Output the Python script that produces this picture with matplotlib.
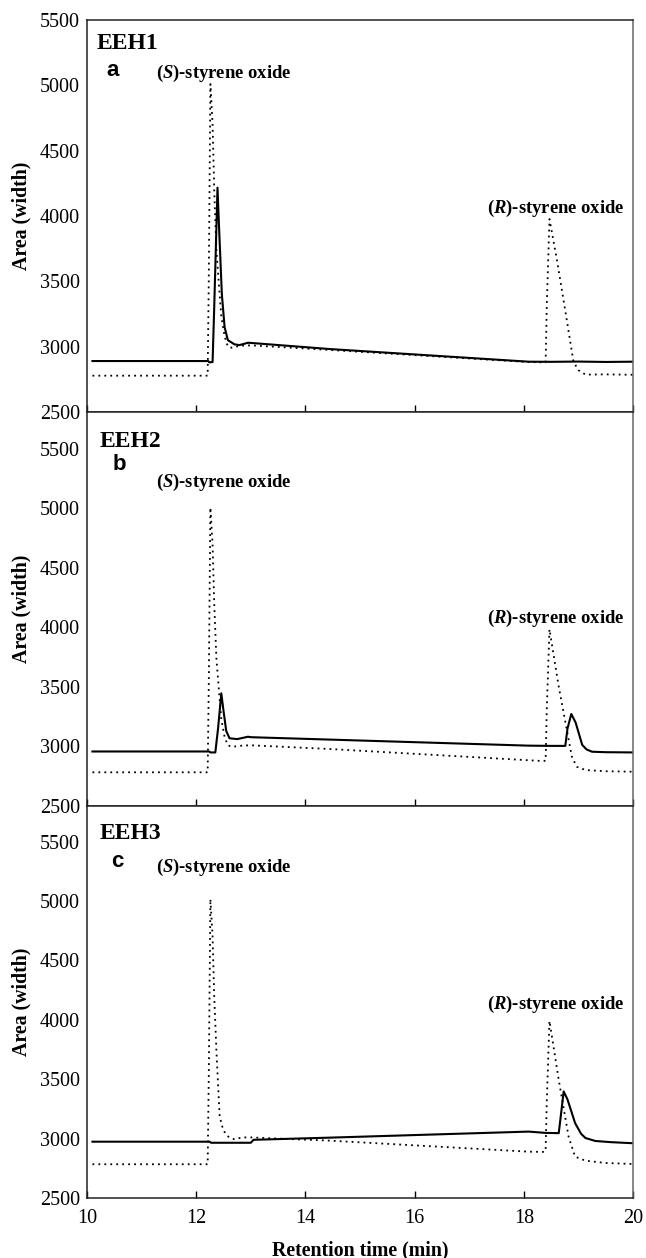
import matplotlib
matplotlib.use("Agg")
import matplotlib.pyplot as plt

plt.rcParams['font.family'] = ['Liberation Serif', 'DejaVu Serif']
plt.rcParams['mathtext.fontset'] = 'custom'
plt.rcParams['mathtext.it'] = 'Liberation Serif:italic:bold'
plt.rcParams['mathtext.rm'] = 'Liberation Serif:bold'

# ---- data (retention time in min, detector area) ----
p1_solid_x = [10.1, 12.22, 12.24, 12.30, 12.33, 12.39, 12.42, 12.47, 12.52, 12.58, 12.7, 12.79, 12.88, 12.95, 13.02, 14.44, 18.09, 18.5, 19.0, 19.5, 20.0]
p1_solid_y = [2890, 2890, 2880, 2882, 3300, 4217, 3900, 3400, 3150, 3050, 3018, 3012, 3022, 3030, 3028, 2982, 2885, 2884, 2886, 2883, 2885]
p1_dot_x = [10.1, 12.21, 12.23, 12.26, 12.30, 12.33, 12.37, 12.42, 12.46, 12.52, 12.58, 12.65, 12.75, 12.85, 13.0, 14.44, 18.09, 18.40, 18.42, 18.47, 18.60, 18.75, 18.91, 19.0, 19.13, 19.5, 20.0]
p1_dot_y = [2778, 2778, 3500, 5010, 4700, 4200, 3740, 3450, 3229, 3080, 3000, 2992, 3002, 3008, 3010, 2975, 2882, 2880, 3300, 3977, 3680, 3300, 2885, 2820, 2786, 2788, 2785]

p2_solid_x = [10.1, 12.24, 12.26, 12.35, 12.40, 12.46, 12.50, 12.55, 12.61, 12.75, 12.95, 13.0, 14.44, 18.09, 18.5, 18.76, 18.80, 18.87, 18.95, 19.07, 19.15, 19.25, 19.5, 20.0]
p2_solid_y = [2958, 2958, 2950, 2950, 3150, 3447, 3300, 3130, 3069, 3062, 3082, 3078, 3058, 3007, 3005, 3005, 3150, 3273, 3200, 3013, 2975, 2956, 2952, 2950]
p2_dot_x = [10.1, 12.21, 12.23, 12.26, 12.30, 12.33, 12.37, 12.42, 12.46, 12.52, 12.58, 12.65, 12.75, 12.85, 13.0, 14.44, 18.33, 18.40, 18.42, 18.47, 18.64, 18.88, 18.97, 19.13, 19.5, 20.0]
p2_dot_y = [2783, 2783, 3500, 5007, 4700, 4200, 3740, 3450, 3229, 3080, 3010, 2998, 3002, 3008, 3010, 2979, 2878, 2880, 3300, 3985, 3503, 2914, 2830, 2802, 2792, 2788]

p3_solid_x = [10.1, 12.25, 12.27, 13.0, 13.05, 14.44, 18.09, 18.40, 18.64, 18.68, 18.73, 18.80, 18.94, 19.05, 19.13, 19.31, 19.6, 20.0]
p3_solid_y = [2974, 2974, 2965, 2965, 2990, 3008, 3059, 3048, 3046, 3200, 3397, 3330, 3130, 3040, 3005, 2980, 2970, 2961]
p3_dot_x = [10.1, 12.21, 12.23, 12.26, 12.30, 12.33, 12.37, 12.43, 12.49, 12.55, 12.62, 12.70, 12.80, 12.9, 13.0, 14.44, 18.09, 18.38, 18.40, 18.42, 18.47, 18.64, 18.82, 18.94, 19.13, 19.5, 20.0]
p3_dot_y = [2784, 2784, 3500, 5017, 4700, 4200, 3740, 3185, 3080, 3031, 3005, 2995, 3005, 3010, 3010, 2983, 2890, 2888, 2900, 3300, 3991, 3494, 3017, 2848, 2814, 2795, 2786]

enzymes = ["EEH1", "EEH2", "EEH3"]
panel_letters = ["a", "b", "c"]
x_ticks = [10, 12, 14, 16, 18, 20]
y_ticks = [2500, 3000, 3500, 4000, 4500, 5000, 5500]
y_tops = [5500, 5810, 5800]

solids = [(p1_solid_x, p1_solid_y), (p2_solid_x, p2_solid_y), (p3_solid_x, p3_solid_y)]
dots = [(p1_dot_x, p1_dot_y), (p2_dot_x, p2_dot_y), (p3_dot_x, p3_dot_y)]

W, H = 646, 1258
fig = plt.figure(figsize=(W / 100, H / 100), dpi=100)

panels_px = [(20, 412), (412, 806), (806, 1198)]
left_px, right_px = 87, 633

# label positions (axes fraction)
eeh_pos = [(0.018, 0.940), (0.024, 0.925), (0.024, 0.929)]
letter_pos = [(0.046, 0.872), (0.0595, 0.867), (0.055, 0.858)]
s_pos = [(0.126, 0.8635), (0.126, 0.822), (0.126, 0.842)]
r_pos = [(0.733, 0.519), (0.733, 0.476), (0.733, 0.495)]

for i in range(3):
    top, bot = panels_px[i]
    ax = fig.add_axes([left_px / W, 1 - bot / H, (right_px - left_px) / W, (bot - top) / H])
    sx, sy = solids[i]
    dx, dy = dots[i]
    ax.plot(dx, dy, color='black', lw=1.3, linestyle=(0, (1, 2.3)))
    ax.plot(sx, sy, color='black', lw=1.5)
    ax.set_xlim(10, 20)
    ax.set_ylim(2500, y_tops[i])
    ax.set_xticks(x_ticks)
    ax.set_yticks(y_ticks)
    ax.tick_params(axis='x', direction='in', length=5, width=1, pad=8, labelsize=14.5)
    ax.tick_params(axis='y', length=0, pad=5, labelsize=14.5)
    if i < 2:
        ax.tick_params(axis='x', labelbottom=False)
    for side in ['left', 'bottom', 'top']:
        ax.spines[side].set_color('#222222')
        ax.spines[side].set_linewidth(1.1)
    ax.spines['right'].set_color('#666666')
    ax.spines['right'].set_linewidth(1.1)
    ax.set_ylabel('Area (width)', fontsize=14.3, fontweight='bold')
    ax.yaxis.set_label_coords(-0.101, 0.5)

    ax.text(eeh_pos[i][0], eeh_pos[i][1], enzymes[i], transform=ax.transAxes,
            fontsize=17, fontweight='bold', ha='left', va='center')
    ax.text(letter_pos[i][0], letter_pos[i][1], panel_letters[i], transform=ax.transAxes,
            fontsize=16, fontweight='bold', ha='center', va='center',
            family=['Liberation Sans', 'DejaVu Sans'])
    ax.text(s_pos[i][0], s_pos[i][1], r'($\mathit{S}$)-styrene oxide', transform=ax.transAxes,
            fontsize=13.4, fontweight='bold', ha='left', va='center')
    ax.text(r_pos[i][0], r_pos[i][1], r'($\mathit{R}$)-styrene oxide', transform=ax.transAxes,
            fontsize=13.4, fontweight='bold', ha='left', va='center')

fig.text((left_px + right_px) / 2 / W, 1 - 1255 / H, 'Retention time (min)',
         fontsize=14.3, fontweight='bold', ha='center', va='baseline')

fig.savefig('out.png', dpi=100)
